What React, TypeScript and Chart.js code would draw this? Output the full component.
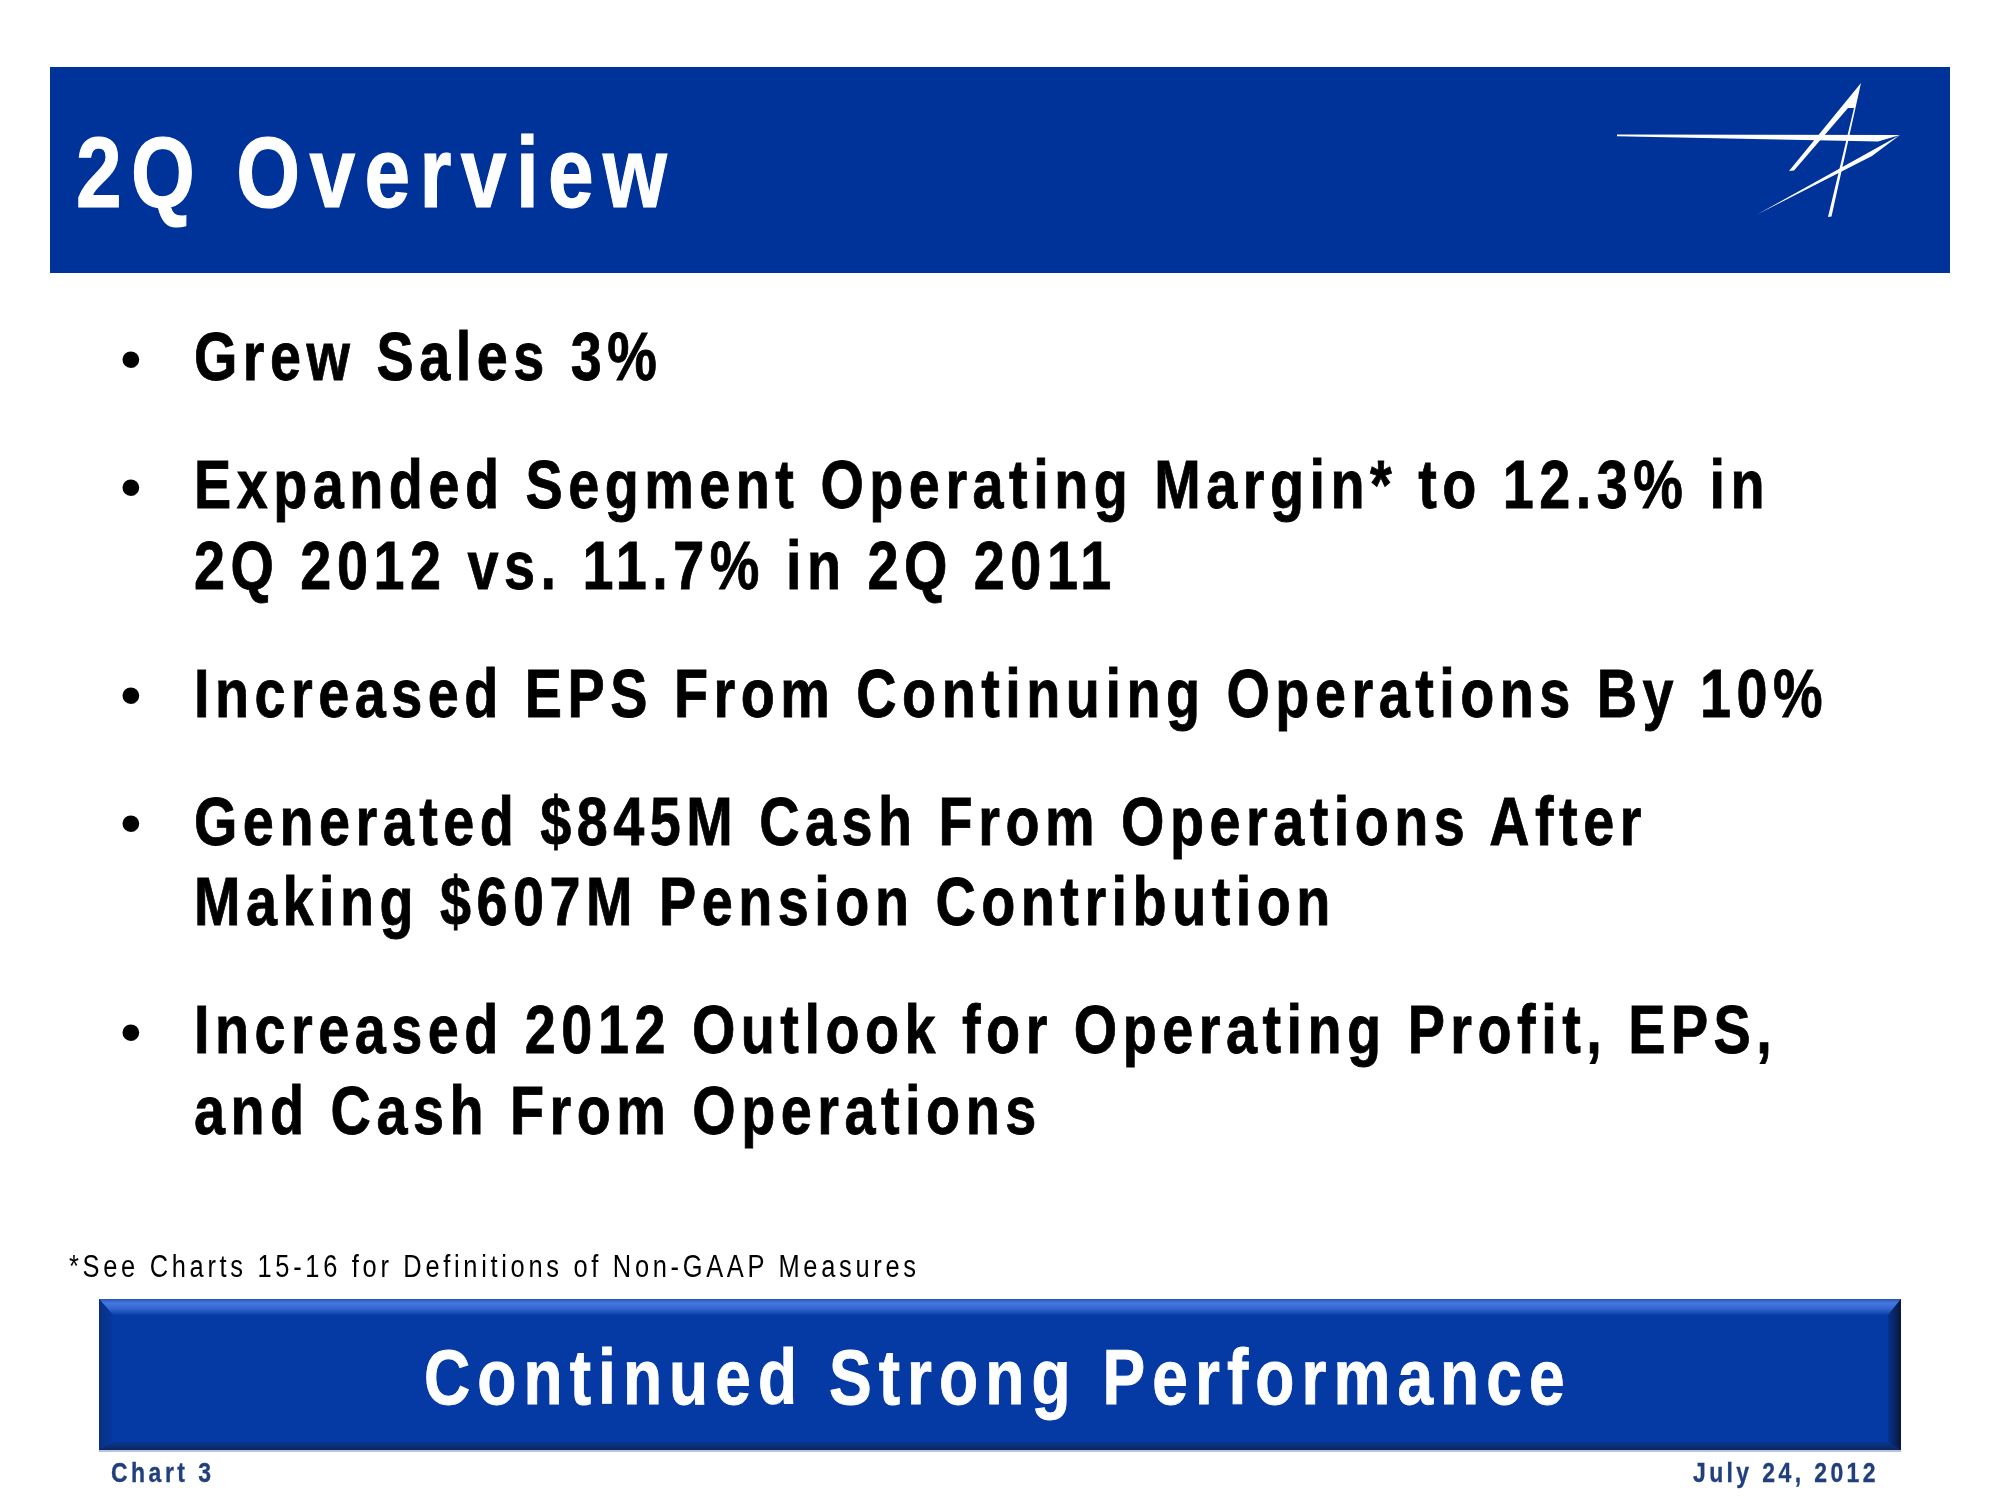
import React, { useEffect, useRef } from "react";
import { Chart, registerables } from "chart.js";

Chart.register(...registerables);

// ---- slide content ----
const title = "2Q Overview";
const bulletItems: string[][] = [
  ["Grew Sales 3%"],
  ["Expanded Segment Operating Margin* to 12.3% in", "2Q 2012 vs. 11.7% in 2Q 2011"],
  ["Increased EPS From Continuing Operations By 10%"],
  ["Generated $845M Cash From Operations After", "Making $607M Pension Contribution"],
  ["Increased 2012 Outlook for Operating Profit, EPS,", "and Cash From Operations"],
];
const footnote = "*See Charts 15-16 for Definitions of Non-GAAP Measures";
const banner = "Continued Strong Performance";
const footerLeft = "Chart 3";
const footerRight = "July 24, 2012";

// ---- layout ----
const W = 2000;
const H = 1500;
const SANS = "'Liberation Sans', Arimo, Arial, sans-serif";
const NARROW_SCALE = 0.82; // Arial Narrow emulation
const ASC = 0.8465; // baseline offset for line-height 1 (Arial metrics)

const HEADER = { x: 50, y: 67, w: 1900, h: 206, color: "#003399" };
const BAND = { x0: 99, y0: 1299, x1: 1901, y1: 1450 };

const slidePlugin = {
  id: "slideBackground",
  beforeDraw(chart: any) {
    const ctx: CanvasRenderingContext2D = chart.ctx;
    ctx.save();
    ctx.fillStyle = "#ffffff";
    ctx.fillRect(0, 0, W, H);

    // header band
    ctx.fillStyle = HEADER.color;
    ctx.fillRect(HEADER.x, HEADER.y, HEADER.w, HEADER.h);

    const poly = (pts: number[][]) => {
      ctx.beginPath();
      ctx.moveTo(pts[0][0], pts[0][1]);
      for (let i = 1; i < pts.length; i++) ctx.lineTo(pts[i][0], pts[i][1]);
      ctx.closePath();
      ctx.fill();
    };

    // logo
    ctx.fillStyle = "#ffffff";
    poly([[1617, 134.5], [1900, 135], [1878, 141.5], [1617, 136.2]]);
    poly([[1900, 135], [1757, 214.5], [1872, 156]]);
    poly([[1861, 83], [1789, 171], [1794, 170.5], [1848, 108], [1854, 108], [1828, 217], [1831.5, 216.5]]);

    // bottom bevelled band
    const { x0, y0, x1, y1 } = BAND;
    const bt = 16, bl = 14, bb = 8, br = 13;
    ctx.fillStyle = "#b9c4da";
    ctx.fillRect(x0, y1, x1 - x0, 2);
    ctx.fillStyle = "#0539a3";
    ctx.fillRect(x0, y0, x1 - x0, y1 - y0);

    let g = ctx.createLinearGradient(0, y0, 0, y0 + bt);
    g.addColorStop(0, "#2856b4");
    g.addColorStop(0.25, "#4478e0");
    g.addColorStop(0.6, "#3566cf");
    g.addColorStop(1, "#0a3ea8");
    ctx.fillStyle = g;
    poly([[x0, y0], [x1, y0], [x1 - br, y0 + bt], [x0 + bl, y0 + bt]]);

    g = ctx.createLinearGradient(x0, 0, x0 + bl, 0);
    g.addColorStop(0, "#0a2f7c");
    g.addColorStop(1, "#0638a4");
    ctx.fillStyle = g;
    poly([[x0, y0], [x0 + bl, y0 + bt], [x0 + bl, y1 - bb], [x0, y1]]);

    g = ctx.createLinearGradient(0, y1 - bb, 0, y1);
    g.addColorStop(0, "#0a3690");
    g.addColorStop(1, "#0a2660");
    ctx.fillStyle = g;
    poly([[x0, y1], [x0 + bl, y1 - bb], [x1 - br, y1 - bb], [x1, y1]]);

    g = ctx.createLinearGradient(x1 - br, 0, x1, 0);
    g.addColorStop(0, "#07318e");
    g.addColorStop(1, "#0a1838");
    ctx.fillStyle = g;
    poly([[x1, y0], [x1 - br, y0 + bt], [x1 - br, y1 - bb], [x1, y1]]);

    ctx.restore();
  },
};

type TextSpec = {
  text: string;
  left: number;
  baseline: number;
  size: number;
  spacing: number;
  weight: string;
  color: string;
  narrow?: boolean;
};

function Line({ t }: { t: TextSpec }) {
  const narrow = t.narrow !== false;
  const sx = narrow ? NARROW_SCALE : 1;
  const bold = t.weight === "bold" && narrow;
  return (
    <div
      style={{
        position: "absolute",
        left: t.left,
        top: t.baseline - ASC * t.size,
        fontFamily: SANS,
        fontSize: t.size,
        lineHeight: `${t.size}px`,
        fontWeight: t.weight as any,
        letterSpacing: t.spacing / sx,
        color: t.color,
        whiteSpace: "nowrap",
        transform: narrow ? `scaleX(${sx})` : undefined,
        transformOrigin: "0 0",
        WebkitTextStroke: bold ? `${(t.size * 0.012).toFixed(2)}px ${t.color}` : undefined,
      }}
    >
      {t.text}
    </div>
  );
}

export default function App() {
  const canvasRef = useRef<HTMLCanvasElement | null>(null);

  useEffect(() => {
    if (!canvasRef.current) return;
    const chart = new Chart(canvasRef.current, {
      type: "scatter",
      data: { datasets: [] },
      options: {
        responsive: false,
        animation: false,
        devicePixelRatio: 1,
        events: [],
        layout: { padding: 0 },
        plugins: { legend: { display: false }, tooltip: { enabled: false }, title: { display: false } },
        scales: { x: { display: false }, y: { display: false } },
      },
      plugins: [slidePlugin],
    });
    return () => chart.destroy();
  }, []);

  const texts: TextSpec[] = [];
  texts.push({ text: title, left: 76, baseline: 207, size: 100, spacing: 9.4, weight: "bold", color: "#ffffff" });

  const bulletGap = 128;
  const lineGap = 80.5;
  let base = 380;
  const bulletDots: number[] = [];
  bulletItems.forEach((lines, i) => {
    if (i > 0) base += bulletGap;
    bulletDots.push(base);
    lines.forEach((ln, j) => {
      if (j > 0) base += lineGap;
      texts.push({ text: ln, left: 194, baseline: base, size: 68, spacing: 5.5, weight: "bold", color: "#000000" });
    });
  });
  bulletDots.forEach((b) =>
    texts.push({ text: "\u2022", left: 120, baseline: b, size: 62, spacing: 0, weight: "normal", color: "#000000", narrow: false })
  );

  texts.push({ text: footnote, left: 69, baseline: 1277, size: 31, spacing: 3.7, weight: "normal", color: "#000000" });
  texts.push({ text: banner, left: 424, baseline: 1404, size: 78, spacing: 7.1, weight: "bold", color: "#ffffff" });
  texts.push({ text: footerLeft, left: 111, baseline: 1483, size: 28, spacing: 3.5, weight: "bold", color: "#203f7c" });
  texts.push({ text: footerRight, left: 1693, baseline: 1483, size: 28, spacing: 3.4, weight: "bold", color: "#203f7c" });

  return (
    <div style={{ position: "absolute", left: 0, top: 0, width: W, height: H, overflow: "hidden", background: "#fff" }}>
      <canvas ref={canvasRef} width={W} height={H} style={{ position: "absolute", left: 0, top: 0, display: "block" }} />
      {texts.map((t, i) => (
        <Line key={i} t={t} />
      ))}
    </div>
  );
}
